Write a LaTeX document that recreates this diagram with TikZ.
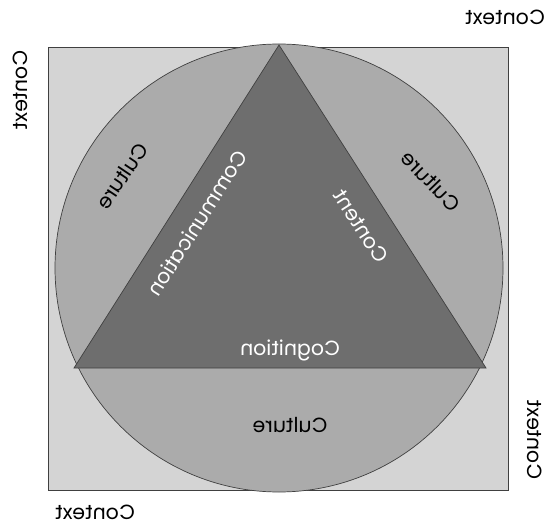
\documentclass[tikz,border=0pt]{standalone}
\usepackage{fontspec}
\setmainfont{Poppins}
\begin{document}
\begin{tikzpicture}[x=1pt,y=-1pt,
  outline/.style={draw=black!75,line width=0.7pt},
  lbl/.style={font=\fontsize{20.5}{24}\selectfont},
  ctx/.style={lbl,text=black},
  cult/.style={lbl,text=black},
  core/.style={lbl,text=white},
  every node/.style={transform shape,inner sep=0pt}]
\useasboundingbox (0,0) rectangle (548,529);
\begin{scope}[xshift=548pt,xscale=-1]
  % context square
  \fill[black!17] (40,47) rectangle (500,490);
  \draw[outline] (40,47) rectangle (500,490);
  % culture circle
  \draw[outline,fill=black!33] (269,268) circle[radius=224];
  % core triangle
  \coordinate (apex) at (269,45);
  \coordinate (br) at (474,368);
  \coordinate (bl) at (62,368);
  \draw[outline,fill=black!57] (apex) -- (br) -- (bl) -- cycle;
  % labels
  \node[ctx] (ctxT) at (43,17) {Context};
  \node[ctx,rotate=-90] (ctxR) at (528,90) {Context};
  \node[ctx,rotate=90] (ctxL) at (13,440) {Context};
  \node[ctx] (ctxB) at (453,512) {Context};
  \node[cult,rotate=-56] (cultR) at (426,176) {Culture};
  \node[cult,rotate=46] (cultL) at (117,181) {Culture};
  \node[cult] (cultB) at (258,425) {Culture};
  \node[core,rotate=-57.7] (comm) at (351,223) {Communication};
  \node[core,rotate=57.3] (cont) at (187,226) {Content};
  \node[core] (cogn) at (258,350) {Cognition};
\end{scope}
\end{tikzpicture}
\end{document}
